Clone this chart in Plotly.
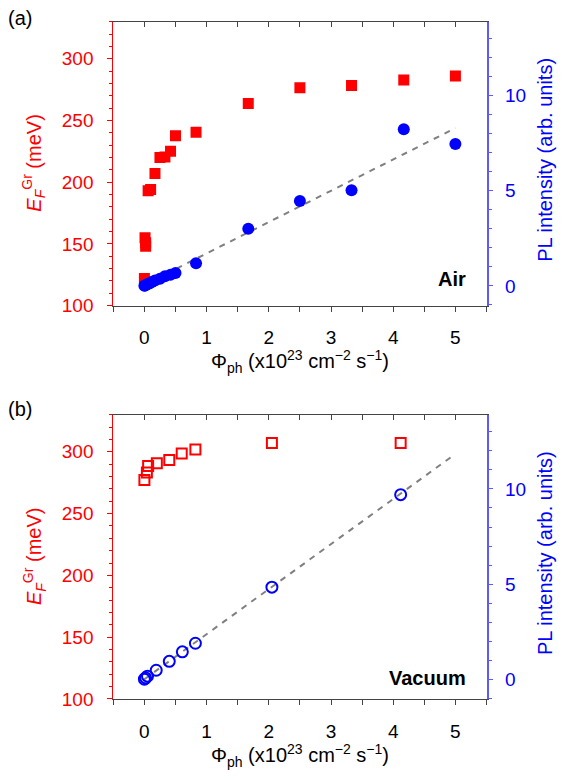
import plotly.graph_objects as go

# ---------------- data ----------------
# Panel (a): Air
a_ef_flux = [0, 0.01, 0.02, 0.02, 0.06, 0.1, 0.17, 0.25, 0.33, 0.42, 0.5, 0.83, 1.67, 2.5, 3.33, 4.17, 5.0]
a_ef_val = [122, 155, 151, 148, 193, 194, 207, 220, 220.3, 225, 237.6, 240.5, 263.7, 276.4, 278.3, 282.8, 286]
a_pl_flux = [0, 0.01, 0.02, 0.04, 0.08, 0.12, 0.17, 0.25, 0.33, 0.42, 0.5, 0.83, 1.67, 2.5, 3.33, 4.17, 5.0]
a_pl_val = [0, 0.02, 0.05, 0.08, 0.13, 0.2, 0.28, 0.38, 0.5, 0.58, 0.68, 1.19, 3.0, 4.46, 5.03, 8.24, 7.46]
a_fit_flux = [0, 5]
a_fit_val = [0.06, 8.3]

# Panel (b): Vacuum
b_ef_flux = [0, 0.04, 0.06, 0.2, 0.4, 0.6, 0.82, 2.05, 4.12]
b_ef_val = [277.3, 283.3, 288.5, 290.7, 293.3, 298.6, 301.8, 307.2, 307.2]
b_pl_flux = [0, 0.02, 0.05, 0.19, 0.4, 0.61, 0.82, 2.05, 4.12]
b_pl_val = [0, 0.07, 0.16, 0.47, 0.94, 1.44, 1.89, 4.84, 9.70]
b_fit_flux = [0, 5]
b_fit_val = [0, 11.84]

x_ticks = [0, 1, 2, 3, 4, 5]
ef_ticks = [100, 150, 200, 250, 300]
pl_ticks = [0, 5, 10]

# ---------------- styling ----------------
W, H = 571, 780
FONT = "Liberation Sans, Arial, Helvetica, sans-serif"
RED = "#ff0000"
BLUE = "#0000ff"
BLUE_LINE = "#5a5aff"
GRAY = "#444444"
DASH = "#808080"
TICKFS = 19
TITLEFS = 20

def px_x(p):
    return p / W

def px_y(p):
    return 1 - p / H

XDOM = [px_x(113.3), px_x(486.5)]
YDOM_A = [px_y(310), px_y(22)]
YDOM_B = [px_y(709), px_y(420.7)]
XR = [-0.5, 5.5]
EFR = [100, 330]
PLR = [-1.04, 13.9]

fig = go.Figure()

def add_panel(xa, ya_left, ya_right, fit_x, fit_y, ef_x, ef_y, pl_x, pl_y, filled):
    fig.add_trace(go.Scatter(x=fit_x, y=fit_y, mode="lines",
                             line=dict(color=DASH, width=2, dash="6px,6px"),
                             xaxis=xa, yaxis=ya_right, showlegend=False, hoverinfo="skip"))
    if filled:
        sq = dict(symbol="square", size=11, color=RED, line=dict(width=0))
        ci = dict(symbol="circle", size=12, color=BLUE, line=dict(width=0))
    else:
        sq = dict(symbol="square-open", size=10, color=RED, line=dict(width=2, color=RED))
        ci = dict(symbol="circle-open", size=11, color=BLUE, line=dict(width=2, color=BLUE))
    fig.add_trace(go.Scatter(x=ef_x, y=ef_y, mode="markers", marker=sq,
                             xaxis=xa, yaxis=ya_left, showlegend=False))
    fig.add_trace(go.Scatter(x=pl_x, y=pl_y, mode="markers", marker=ci,
                             xaxis=xa, yaxis=ya_right, showlegend=False))

add_panel("x", "y", "y2", a_fit_flux, a_fit_val, a_ef_flux, a_ef_val, a_pl_flux, a_pl_val, True)
add_panel("x2", "y3", "y4", b_fit_flux, b_fit_val, b_ef_flux, b_ef_val, b_pl_flux, b_pl_val, False)
# dummy traces so that top (mirror) axes are drawn
fig.add_trace(go.Scatter(x=[None], y=[None], xaxis="x3", yaxis="y", showlegend=False, hoverinfo="skip"))
fig.add_trace(go.Scatter(x=[None], y=[None], xaxis="x4", yaxis="y3", showlegend=False, hoverinfo="skip"))

def xaxis_bottom(anchor):
    return dict(domain=XDOM, range=XR, anchor=anchor, tickmode="array", tickvals=x_ticks,
                ticks="outside", ticklen=5, tickwidth=1, tickcolor=GRAY,
                minor=dict(ticks="outside", ticklen=5, dtick=0.5, tick0=0, tickcolor=GRAY),
                showline=True, linecolor=GRAY, linewidth=1, showgrid=False, zeroline=False,
                tickfont=dict(family=FONT, size=TICKFS, color="#000000"), ticklabelstandoff=10)

def xaxis_top(overlay, anchor):
    return dict(domain=XDOM, range=XR, overlaying=overlay, anchor=anchor, side="top",
                tickmode="array", tickvals=x_ticks, ticks="inside", ticklen=5, tickcolor=GRAY,
                minor=dict(ticks="inside", ticklen=5, dtick=0.5, tick0=0, tickcolor=GRAY),
                showticklabels=False, showline=True, linecolor=GRAY, linewidth=1,
                showgrid=False, zeroline=False)

def yaxis_left(dom, anchor):
    return dict(domain=dom, range=EFR, anchor=anchor, tickmode="array", tickvals=ef_ticks,
                ticks="outside", ticklen=5, tickcolor=RED,
                minor=dict(ticks="outside", ticklen=3, dtick=10, tick0=100, tickcolor=RED),
                showline=True, linecolor=RED, linewidth=1, showgrid=False, zeroline=False,
                tickfont=dict(family=FONT, size=TICKFS, color=RED), ticklabelstandoff=10)

def yaxis_right(overlay, anchor):
    return dict(range=PLR, overlaying=overlay, anchor=anchor, side="right",
                tickmode="array", tickvals=pl_ticks,
                ticks="outside", ticklen=5, tickcolor=BLUE_LINE,
                minor=dict(ticks="outside", ticklen=4, dtick=1, tick0=0, tickcolor=BLUE_LINE),
                showline=True, linecolor=BLUE_LINE, linewidth=1.5, showgrid=False, zeroline=False,
                tickfont=dict(family=FONT, size=TICKFS, color=BLUE), ticklabelstandoff=8)

fig.update_layout(
    width=W, height=H, margin=dict(l=0, r=0, t=0, b=0),
    paper_bgcolor="white", plot_bgcolor="white", showlegend=False,
    xaxis=xaxis_bottom("y"), xaxis2=xaxis_bottom("y3"),
    xaxis3=xaxis_top("x", "y"), xaxis4=xaxis_top("x2", "y3"),
    yaxis=yaxis_left(YDOM_A, "x"), yaxis2=yaxis_right("y", "x"),
    yaxis3=yaxis_left(YDOM_B, "x2"), yaxis4=yaxis_right("y3", "x2"),
    font=dict(family=FONT),
)

xtitle = "Φ<sub>ph</sub> (x10<sup>23</sup> cm<sup>−2</sup> s<sup>−1</sup>)"
eftitle = "<i>E</i><sub><i>F</i></sub><sup>Gr</sup> (meV)"
pltitle = "PL intensity (arb. units)"

anns = []
for ycen_x, ycen_left, tag, tag_y, tagtext, tag_yp in [
    (367, 166, "(a)", 18, "Air", 283),
    (766, 565, "(b)", 415, "Vacuum", 688),
]:
    anns.append(dict(text=xtitle, x=px_x(300), y=px_y(ycen_x), xref="paper", yref="paper",
                     xanchor="center", yanchor="middle", showarrow=False,
                     font=dict(family=FONT, size=TITLEFS, color="#000000")))
    anns.append(dict(text=eftitle, x=px_x(34), y=px_y(ycen_left), xref="paper", yref="paper",
                     xanchor="center", yanchor="middle", showarrow=False, textangle=-90,
                     font=dict(family=FONT, size=TITLEFS, color=RED)))
    anns.append(dict(text=pltitle, x=px_x(545), y=px_y(ycen_left - 4), xref="paper", yref="paper",
                     xanchor="center", yanchor="middle", showarrow=False, textangle=-90,
                     font=dict(family=FONT, size=TITLEFS, color=BLUE)))
    anns.append(dict(text=tag, x=px_x(6), y=px_y(tag_y), xref="paper", yref="paper",
                     xanchor="left", yanchor="middle", showarrow=False,
                     font=dict(family=FONT, size=TITLEFS, color="#000000")))
    anns.append(dict(text="<b>" + tagtext + "</b>", x=px_x(468), y=px_y(tag_yp), xref="paper", yref="paper",
                     xanchor="right", yanchor="middle", showarrow=False,
                     font=dict(family=FONT, size=TITLEFS, color="#000000")))

fig.update_layout(annotations=anns)
fig.write_html("out.html")
